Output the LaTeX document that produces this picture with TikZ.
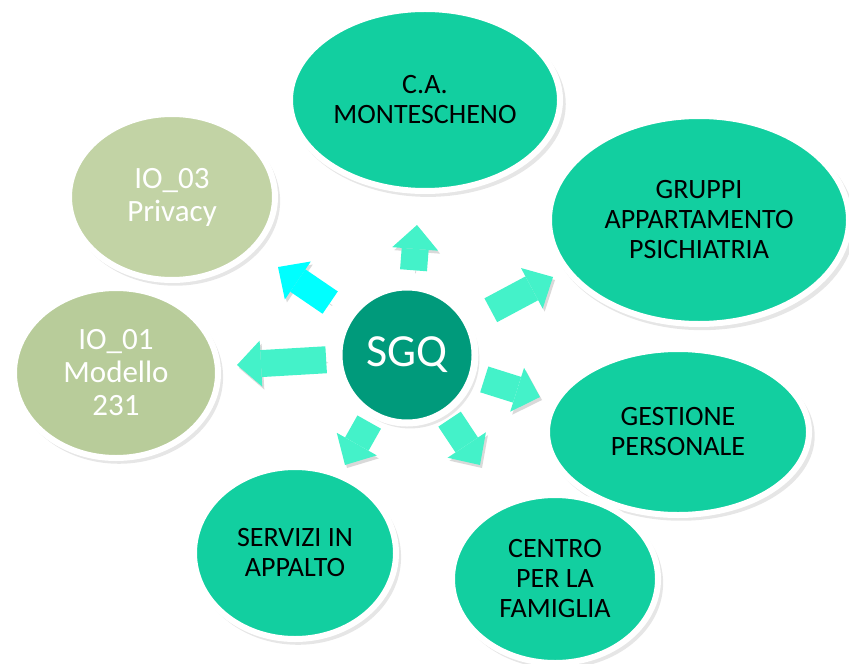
\documentclass[tikz,border=0pt]{standalone}
\usepackage{fontspec}
\setmainfont{Carlito}
\usetikzlibrary{shapes.geometric,arrows.meta,shadows}

\definecolor{unitfill}{HTML}{12CFA0}
\definecolor{corefill}{HTML}{009A7B}
\definecolor{iofillA}{HTML}{C2D3A5}
\definecolor{iofillB}{HTML}{B8CC9A}
\definecolor{arrowfill}{HTML}{44F2C9}
\definecolor{arrowcyan}{HTML}{00FFFF}

\begin{document}
\begin{tikzpicture}
[x=0.5pt,y=-0.5pt,
 bubble/.style={ellipse,draw=white,line width=3pt,inner sep=0pt,outer sep=0pt,align=center,
                drop shadow={opacity=0.2,shadow scale=1.02,shadow xshift=1.5pt,shadow yshift=-2pt}},
 unit/.style={fill=unitfill,font=\fontsize{14}{15}\selectfont},
 io/.style={text=white,font=\fontsize{15.5}{16.5}\selectfont},
 core/.style={circle,fill=corefill,line width=3.5pt,text=white,minimum size=68pt,
              font=\fontsize{23}{24}\selectfont},
 barrow/.style={draw=arrowfill,line width=13.5pt,
                -{Triangle[width=23pt,length=12pt,line width=0pt]},
                preaction={draw=black,opacity=0.15,transform canvas={xshift=1pt,yshift=-1.5pt}}}]
\useasboundingbox (0,0) rectangle (849,663);
\node[bubble,unit,minimum width=135pt,minimum height=91pt]  (ca)  at (425,100) {C.A.\\MONTESCHENO};
\node[bubble,unit,minimum width=150pt,minimum height=104pt] (gap) at (699,220) {GRUPPI\\APPARTAMENTO\\PSICHIATRIA};
\node[bubble,unit,minimum width=131pt,minimum height=83pt]  (gp)  at (678,432) {GESTIONE\\PERSONALE};
\node[bubble,unit,minimum width=103pt,minimum height=84pt]  (cpf) at (555,579) {CENTRO\\PER LA\\FAMIGLIA};
\node[bubble,unit,minimum width=101pt,minimum height=86pt]  (sia) at (295,553) {SERVIZI IN\\APPALTO};
\node[bubble,io,fill=iofillB,minimum width=102pt,minimum height=85pt] (io1) at (116,373) {IO\_01\\Modello\\231};
\node[bubble,io,fill=iofillA,minimum width=103pt,minimum height=83pt] (io3) at (172,197) {IO\_03\\Privacy};
\node[bubble,core] (sgq) at (407,355) {SGQ};
\coordinate (pCA)  at (417,225);
\coordinate (pIO3) at (278,267);
\coordinate (pGAP) at (553,277);
\coordinate (pIO1) at (237,365);
\coordinate (pGP)  at (540,397);
\coordinate (pCPF) at (480,465);
\coordinate (pSIA) at (345,465);
\draw[barrow,shorten <=8.5pt]  (sgq) -- (pCA);
\draw[barrow,draw=arrowcyan,shorten <=12.5pt] (sgq) -- (pIO3);
\draw[barrow,shorten <=13.5pt] (sgq) -- (pGAP);
\draw[barrow,shorten <=6.5pt]  (sgq) -- (pIO1);
\draw[barrow,shorten <=6.5pt]  (sgq) -- (pGP);
\draw[barrow,shorten <=4.5pt]  (sgq) -- (pCPF);
\draw[barrow,shorten <=4.5pt]  (sgq) -- (pSIA);
\end{tikzpicture}
\end{document}
